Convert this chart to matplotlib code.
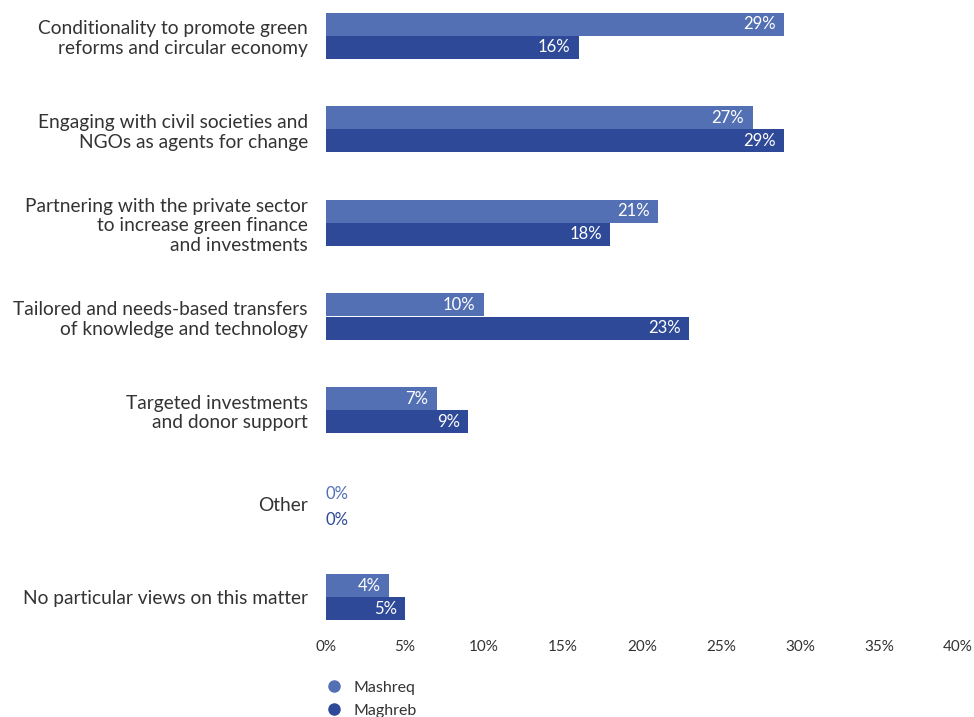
import matplotlib
matplotlib.use("Agg")
from matplotlib import pyplot as plt
from matplotlib.lines import Line2D
import numpy as np

plt.rcParams['font.family'] = ['Lato', 'DejaVu Sans']

categories = [
    "Conditionality to promote green\nreforms and circular economy",
    "Engaging with civil societies and\nNGOs as agents for change",
    "Partnering with the private sector\nto increase green finance\nand investments",
    "Tailored and needs-based transfers\nof knowledge and technology",
    "Targeted investments\nand donor support",
    "Other",
    "No particular views on this matter",
]
mashreq = [29, 27, 21, 10, 7, 0, 4]
maghreb = [16, 29, 18, 23, 9, 0, 5]
series_names = ["Mashreq", "Maghreb"]
ticks = [0, 5, 10, 15, 20, 25, 30, 35, 40]

colors = ["#5470B4", "#2E4998"]

fig = plt.figure(figsize=(9.74, 7.17), dpi=100)
ax = fig.add_axes([326 / 974, 1 - 633 / 717, (958 - 326) / 974, 633 / 717])

y = np.arange(len(categories))
h = 0.246
for vals, sgn, col in [(mashreq, -1, colors[0]), (maghreb, 1, colors[1])]:
    bars = ax.barh(y + sgn * h / 2, vals, height=h, color=col)
    for i, (b, v) in enumerate(zip(bars, vals)):
        cy = b.get_y() + b.get_height() / 2
        if v > 0:
            ax.annotate(f"{v}%", (v, cy), xytext=(-6, 0), textcoords="offset points",
                        ha="right", va="center", color="white", fontsize=12)
        else:
            ax.annotate(f"{v}%", (0, y[i] + 0.04 + sgn * 0.14), xytext=(0, 0),
                        textcoords="offset points",
                        ha="left", va="center", color=col, fontsize=12)

ax.set_xlim(0, 40)
ax.set_ylim(6.385, -0.385)
ax.set_yticks(y)
ax.set_yticklabels(categories, fontsize=13.8, color="#333333", linespacing=1.2)
ax.set_xticks(ticks)
ax.set_xticklabels([f"{t}%" for t in ticks], fontsize=11, color="#333333")
ax.tick_params(axis="both", length=0)
ax.tick_params(axis="y", pad=13)
ax.tick_params(axis="x", pad=5)
for s in ax.spines.values():
    s.set_visible(False)

handles = [Line2D([], [], marker="o", linestyle="none", markersize=8, color=c) for c in colors]
fig.legend(handles, series_names, loc="upper left", bbox_to_anchor=(312 / 974, 1 - 674 / 717),
           frameon=False, fontsize=11.5, handletextpad=0.2, labelspacing=0.55,
           labelcolor="#333333", borderaxespad=0)

fig.savefig("out.png", dpi=100)
